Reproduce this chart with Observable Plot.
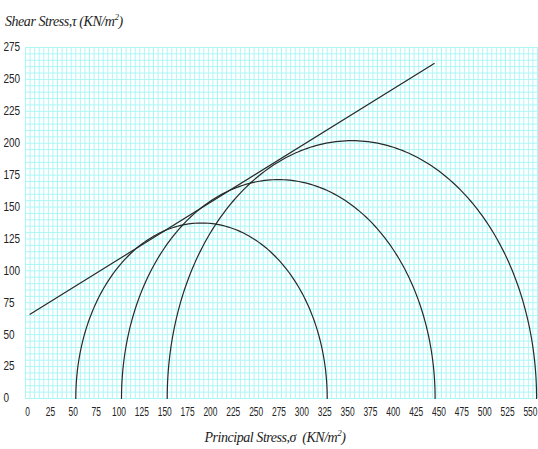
<!DOCTYPE html>
<html>
<head>
<meta charset="utf-8">
<script src="https://cdn.jsdelivr.net/npm/d3@7"></script>
<script src="https://cdn.jsdelivr.net/npm/@observablehq/plot@0.6"></script>
<style>
  body { margin: 0; background: #fff; width: 538px; }
  .ttl { font-family: "Liberation Serif", "DejaVu Serif", serif; font-style: italic; font-size: 14px; letter-spacing: -0.45px; color: #222; }
  #ylab { height: 30px; line-height: 34px; padding-left: 5px; }
  #xlab { text-align: center; padding-left: 12px; margin-top: 8px; }
  sup { font-size: 9px; }
</style>
</head>
<body>
<div id="ylab" class="ttl">Shear Stress,τ (KN/m<sup>2</sup>)</div>
<div id="chart"></div>
<div id="xlab" class="ttl">Principal Stress,σ &nbsp;(KN/m<sup>2</sup>)</div>
<script>
// Mohr circles: minor and major principal stresses of each test (kN/m²)
const sigma3 = [50, 100, 150];
const sigma1 = [325, 443, 554];

// Failure envelope end points (σ, τ)
const envelopeSigma = [0, 442];
const envelopeTau = [66, 262.5];

// Axis ticks and graph-paper grid
const xTicks = d3.range(0, 551, 25);
const yTicks = d3.range(0, 276, 25);
const xGrid = d3.range(-5, 556, 5);
const yGrid = d3.range(0, 276, 5);

// Semicircle outline of each Mohr circle
const circlePts = [];
sigma3.forEach((s3, i) => {
  const c = (s3 + sigma1[i]) / 2, r = (sigma1[i] - s3) / 2;
  for (let k = 0; k <= 180; k++) {
    const a = Math.PI - (k * Math.PI) / 180;
    circlePts.push({id: i, x: c + r * Math.cos(a), y: r * Math.sin(a)});
  }
});
const envelope = envelopeSigma.map((s, i) => ({x: s, y: envelopeTau[i]}));

const font = '"Liberation Sans", Arial, sans-serif';

const chart = Plot.plot({
  width: 538,
  height: 390,
  marginLeft: 25,
  marginRight: 1,
  marginTop: 17,
  marginBottom: 22,
  style: {fontFamily: font, fontSize: "12px", color: "#222", background: "#fff"},
  x: {domain: [-5, 555]},
  y: {domain: [0, 275]},
  marks: [
    Plot.ruleX(xGrid, {y1: 0, y2: 275, stroke: "#adf6f6", strokeWidth: 1}),
    Plot.ruleY(yGrid, {x1: -5, x2: 555, stroke: "#adf6f6", strokeWidth: 1}),
    Plot.axisX({ticks: xTicks, tickSize: 0, tickPadding: 9, dx: -2.5, label: null}),
    Plot.axisY({ticks: yTicks, tickSize: 0, tickPadding: 0, textAnchor: "start", dx: -22, label: null}),
    Plot.line(circlePts, {x: "x", y: "y", z: "id", stroke: "#2a2a2a", strokeWidth: 1.2}),
    Plot.line(envelope, {x: "x", y: "y", stroke: "#2a2a2a", strokeWidth: 1.2})
  ]
});

// Narrow (condensed) tick-label lettering: squeeze each label about its anchor
function condense(selector, s) {
  d3.select(chart).selectAll(selector).each(function() {
    const ax = +(this.getAttribute("x") || 0);
    const t = this.getAttribute("transform") || "";
    this.setAttribute("transform", `${t} translate(${ax},0) scale(${s},1) translate(${-ax},0)`);
  });
}
condense('g[aria-label="x-axis tick label"] text', 0.7);
condense('g[aria-label="y-axis tick label"] text', 0.83);

document.getElementById("chart").appendChild(chart);
</script>
</body>
</html>
